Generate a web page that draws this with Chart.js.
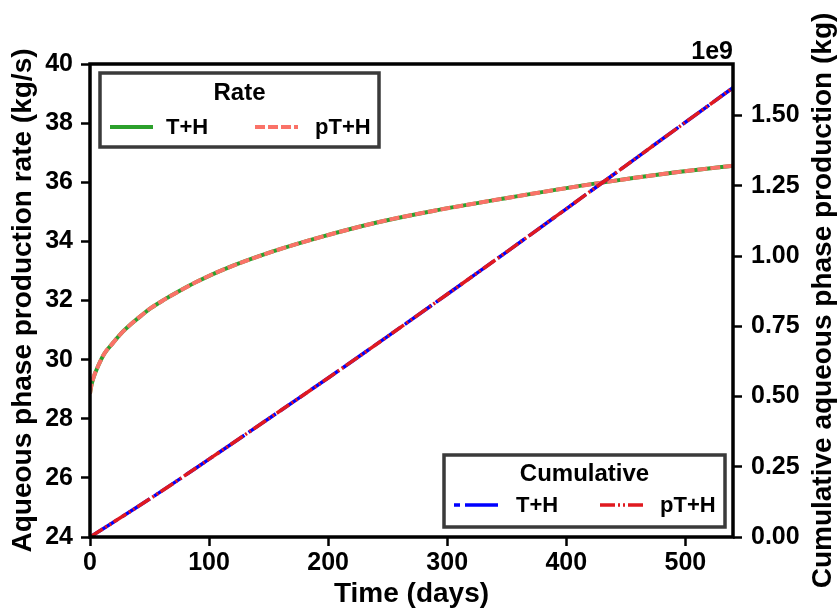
<!DOCTYPE html>
<html>
<head>
<meta charset="utf-8">
<script src="https://cdn.jsdelivr.net/npm/chart.js@4"></script>
<style>
  html, body { margin: 0; padding: 0; background: #fff; }
  #wrap { width: 838px; height: 611px; }
</style>
</head>
<body>
<div id="wrap"><canvas id="chart" width="838" height="611"></canvas></div>
<script>
// values
const rateDays = [0, 1, 3, 7, 12, 19, 26, 35, 43, 51, 62, 75, 90, 111, 153, 195, 240, 288, 349, 427, 489, 540];
const rateTH   = [28.85, 29.1, 29.4, 29.8, 30.2, 30.55, 30.88, 31.22, 31.49, 31.74, 32.02, 32.32, 32.64, 33.03, 33.65, 34.16, 34.63, 35.03, 35.46, 35.97, 36.32, 36.56];
const ratePTH  = [28.85, 29.1, 29.4, 29.8, 30.2, 30.55, 30.88, 31.22, 31.49, 31.74, 32.02, 32.32, 32.64, 33.03, 33.65, 34.16, 34.63, 35.03, 35.46, 35.97, 36.32, 36.56];

const cumDays = [0, 50, 100, 150, 200, 250, 300, 350, 400, 450, 500, 540];
const cumTH   = [0, 0.135e9, 0.277e9, 0.421e9, 0.566e9, 0.714e9, 0.864e9, 1.015e9, 1.168e9, 1.322e9, 1.476e9, 1.599e9];
const cumPTH  = [0, 0.135e9, 0.277e9, 0.421e9, 0.566e9, 0.714e9, 0.864e9, 1.015e9, 1.168e9, 1.322e9, 1.476e9, 1.599e9];

const xTicks  = [0, 100, 200, 300, 400, 500];
const yTicks  = [24, 26, 28, 30, 32, 34, 36, 38, 40];
const y2Ticks = [0, 0.25e9, 0.5e9, 0.75e9, 1.0e9, 1.25e9, 1.5e9];

const FONT = "'Liberation Sans', Arial, sans-serif";

const toPoints = (xs, ys) => xs.map((x, i) => ({ x: x, y: ys[i] }));

// frame, legends, right title and offset text
const extrasPlugin = {
    id: 'extras',
    afterDatasetsDraw: (chart) => {
        const { ctx, chartArea: ca } = chart;
        const ds = chart.data.datasets;

        ctx.save();
        ctx.strokeStyle = '#000';
        ctx.lineWidth = 3.5;
        ctx.strokeRect(ca.left, ca.top, ca.right - ca.left, ca.bottom - ca.top);

        const drawBox = (left, top, w, h, title, titleDy, itemDy, items) => {
            ctx.fillStyle = '#fff';
            ctx.fillRect(left, top, w, h);
            ctx.strokeStyle = '#3a3a3a';
            ctx.lineWidth = 3.5;
            ctx.strokeRect(left, top, w, h);

            ctx.fillStyle = '#000';
            ctx.textAlign = 'center';
            ctx.textBaseline = 'middle';
            ctx.font = 'bold 24px ' + FONT;
            ctx.fillText(title, left + w / 2, top + titleDy);

            items.forEach(it => {
                const d = ds[it.index];
                const y = top + itemDy;
                ctx.save();
                ctx.strokeStyle = d.borderColor;
                ctx.lineWidth = d.borderWidth;
                ctx.setLineDash(d.borderDash || []);
                ctx.lineDashOffset = it.dashOffset || 0;
                ctx.beginPath();
                ctx.moveTo(left + it.x0, y);
                ctx.lineTo(left + it.x1, y);
                ctx.stroke();
                ctx.restore();
                ctx.fillStyle = '#000';
                ctx.textAlign = 'left';
                ctx.font = 'bold 22px ' + FONT;
                ctx.fillText(d.label, left + it.tx, y + 1);
            });
        };

        drawBox(ca.left + 10, ca.top + 9, 279, 74, 'Rate', 20.5, 54, [
            { index: 3, x0: 10, x1: 53, tx: 66 },
            { index: 2, x0: 155, x1: 198, tx: 215 }
        ]);
        drawBox(ca.right - 289, ca.bottom - 82, 281, 72, 'Cumulative', 19, 50, [
            { index: 1, x0: 10, x1: 54, tx: 72, dashOffset: 27 },
            { index: 0, x0: 156, x1: 199, tx: 216 }
        ]);

        // offset text of the right axis
        ctx.fillStyle = '#000';
        ctx.font = 'bold 25px ' + FONT;
        ctx.textAlign = 'right';
        ctx.textBaseline = 'middle';
        ctx.fillText('1e9', ca.right, ca.top - 12);

        // right axis title, reading bottom to top
        ctx.translate(823, (ca.top + ca.bottom) / 2);
        ctx.rotate(-Math.PI / 2);
        ctx.textAlign = 'center';
        ctx.font = 'bold 28px ' + FONT;
        ctx.fillText('Cumulative aqueous phase production (kg)', 0, 0);
        ctx.restore();
    }
};

const tickFont = { family: FONT, size: 25, weight: 'bold' };
const titleFont = { family: FONT, size: 28, weight: 'bold' };
const tickGrid = { drawOnChartArea: false, drawTicks: true, tickLength: 9, tickWidth: 2.5, tickColor: '#000' };

new Chart(document.getElementById('chart').getContext('2d'), {
    type: 'line',
    data: {
        datasets: [
            { label: 'pT+H', data: toPoints(cumDays, cumPTH), yAxisID: 'y2', borderColor: '#e0191f',
              borderWidth: 3.5, borderDash: [15, 3, 2, 3, 2, 3], order: 0 },
            { label: 'T+H', data: toPoints(cumDays, cumTH), yAxisID: 'y2', borderColor: '#0000ff',
              borderWidth: 3.5, borderDash: [33, 5], order: 1 },
            { label: 'pT+H', data: toPoints(rateDays, ratePTH), yAxisID: 'y', borderColor: '#fa7268',
              borderWidth: 4, borderDash: [10, 3], order: 2 },
            { label: 'T+H', data: toPoints(rateDays, rateTH), yAxisID: 'y', borderColor: '#2ca02c',
              borderWidth: 4, order: 3 }
        ]
    },
    options: {
        responsive: false,
        animation: false,
        devicePixelRatio: 1,
        layout: { padding: { top: 64, left: 0, right: 0, bottom: 0 } },
        elements: { point: { radius: 0 }, line: { cubicInterpolationMode: 'monotone', fill: false } },
        plugins: { legend: { display: false }, tooltip: { enabled: false } },
        scales: {
            x: {
                type: 'linear', min: 0, max: 540,
                afterBuildTicks: s => { s.ticks = xTicks.map(v => ({ value: v })); },
                afterFit: s => { s.height = 74; },
                border: { display: false },
                grid: tickGrid,
                ticks: { font: tickFont, color: '#000', padding: 2, maxRotation: 0 },
                title: { display: true, text: 'Time (days)', font: titleFont, color: '#000', padding: { top: 0, bottom: 0 } }
            },
            y: {
                type: 'linear', position: 'left', min: 24, max: 40,
                afterBuildTicks: s => { s.ticks = yTicks.map(v => ({ value: v })); },
                afterFit: s => { s.width = 90; },
                border: { display: false },
                grid: tickGrid,
                ticks: { font: tickFont, color: '#000', padding: 8 },
                title: { display: true, text: 'Aqueous phase production rate (kg/s)', font: titleFont, color: '#000', padding: { top: 6, bottom: 0 } }
            },
            y2: {
                type: 'linear', position: 'right', min: 0, max: 1.6834e9,
                afterBuildTicks: s => { s.ticks = y2Ticks.map(v => ({ value: v })); },
                afterFit: s => { s.width = 105; },
                border: { display: false },
                grid: tickGrid,
                ticks: { font: tickFont, color: '#000', padding: 9, callback: v => (v / 1e9).toFixed(2) }
            }
        }
    },
    plugins: [extrasPlugin]
});
</script>
</body>
</html>
